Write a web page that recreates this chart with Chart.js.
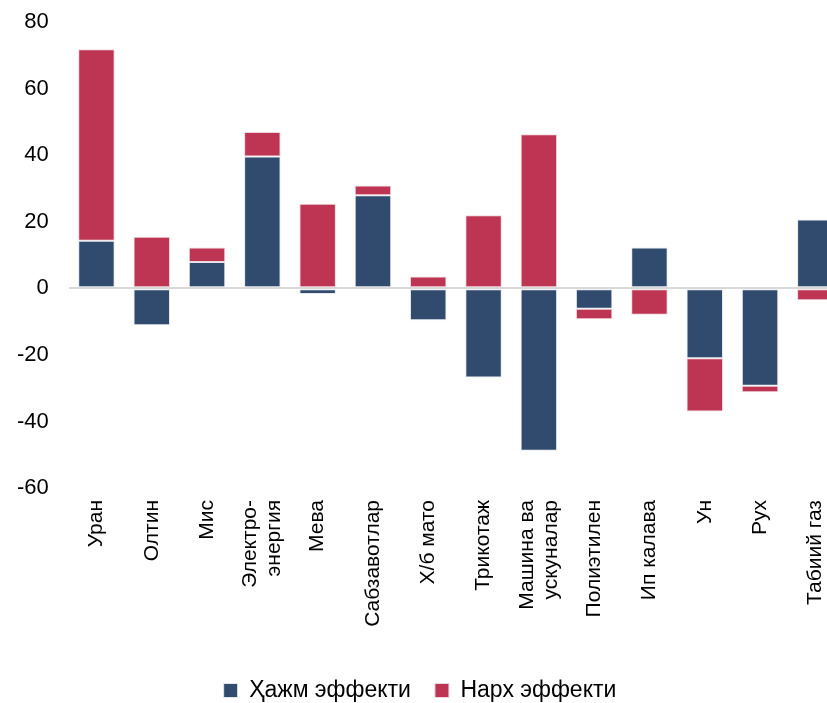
<!DOCTYPE html>
<html>
<head>
<meta charset="utf-8">
<script src="https://cdn.jsdelivr.net/npm/chart.js@4/dist/chart.umd.min.js"></script>
<style>
  html, body { margin: 0; padding: 0; background: #fff; overflow: hidden; }
  #wrap { width: 846px; height: 723px; position: absolute; top: -11px; left: -3px; }
</style>
</head>
<body>
<div id="wrap"><canvas id="c"></canvas></div>
<script>
const categories = [
  "Уран", "Олтин", "Мис", ["Электро-", "энергия"], "Мева", "Сабзавотлар", "Х/б мато",
  "Трикотаж", ["Машина ва", "ускуналар"], "Полиэтилен", "Ип калава", "Ун", "Рух", "Табиий газ"
];
const volumeEffect = [14.3, -11.1, 7.9, 39.6, -1.7, 28.0, -9.6, -26.8, -48.8, -6.1, 12.3, -21.0, -29.3, 20.7];
const priceEffect  = [57.6, 15.5, 4.4, 7.4, 25.4, 2.9, 3.6, 22.0, 46.3, -3.2, -7.9, -16.0, -1.9, -3.6];
const seriesNames = ["Ҳажм эффекти", "Нарх эффекти"];
const yTicks = [-60, -40, -20, 0, 20, 40, 60, 80];

const FONT = "'Liberation Sans', Arial, sans-serif";
const X_FONT_SIZE = 21;
const X_LINE_H = 24;

// Category labels: rotated, multi-line labels centred on their tick
const xLabelPlugin = {
  id: 'xLabels',
  afterDraw(chart) {
    const sc = chart.scales.x;
    const ctx = chart.ctx;
    ctx.save();
    ctx.font = X_FONT_SIZE + 'px ' + FONT;
    ctx.fillStyle = '#000';
    ctx.textAlign = 'right';
    ctx.textBaseline = 'middle';
    chart.data.labels.forEach((lab, i) => {
      const lines = Array.isArray(lab) ? lab : [lab];
      const x = sc.getPixelForTick(i);
      const y = sc.top + 12;
      lines.forEach((ln, j) => {
        const off = (j - (lines.length - 1) / 2) * X_LINE_H;
        ctx.save();
        ctx.translate(x + off, y);
        ctx.rotate(-Math.PI / 2);
        ctx.fillText(ln, 0, 0);
        ctx.restore();
      });
    });
    ctx.restore();
  }
};

new Chart(document.getElementById('c'), {
  type: 'bar',
  data: {
    labels: categories,
    datasets: [
      { label: seriesNames[0], data: volumeEffect, backgroundColor: '#314B6F', borderColor: '#E4E8EE', borderWidth: 1, borderSkipped: false, categoryPercentage: 0.66, barPercentage: 1 },
      { label: seriesNames[1], data: priceEffect, backgroundColor: '#BE3453', borderColor: '#F0D6DC', borderWidth: 1, borderSkipped: false, categoryPercentage: 0.66, barPercentage: 1 }
    ]
  },
  plugins: [xLabelPlugin],
  options: {
    responsive: true,
    maintainAspectRatio: false,
    animation: false,
    layout: { padding: { top: 0, left: 0, right: 0, bottom: 0 } },
    plugins: {
      legend: {
        position: 'bottom',
        labels: {
          font: { family: FONT, size: 23 },
          color: '#000',
          boxWidth: 14, boxHeight: 14,
          padding: 24,
          useBorderRadius: false
        }
      },
      tooltip: { enabled: false }
    },
    scales: {
      x: {
        stacked: true,
        grid: { display: false, drawTicks: false },
        border: { display: false },
        ticks: { display: false },
        afterFit: (scale) => { scale.height = 167; }
      },
      y: {
        stacked: true,
        min: -60, max: 80,
        afterBuildTicks: (axis) => { axis.ticks = yTicks.map(v => ({ value: v })); },
        grid: {
          drawTicks: false,
          lineWidth: 2,
          color: (ctx) => (ctx.tick && ctx.tick.value === 0) ? '#D9D9D9' : 'rgba(0,0,0,0)'
        },
        border: { display: false },
        ticks: {
          font: { family: FONT, size: 22 },
          color: '#000',
          padding: 20
        }
      }
    }
  }
});
</script>
</body>
</html>
